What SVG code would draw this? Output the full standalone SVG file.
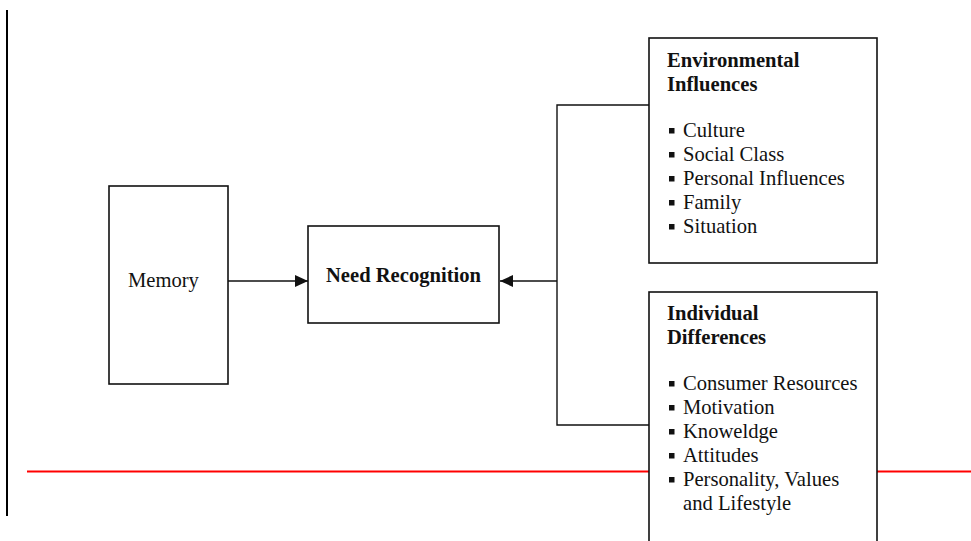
<svg xmlns="http://www.w3.org/2000/svg" width="971" height="541" viewBox="0 0 971 541">
  <style>
    .box { fill: #ffffff; stroke: #111111; stroke-width: 1.6; }
    .wire { fill: none; stroke: #111111; stroke-width: 1.4; }
    .txt { font-family: "Liberation Serif", "Times New Roman", serif; font-size: 20.6px; fill: #111111; }
    .bold { font-weight: bold; }
    .bullet { fill: #111111; }
  </style>
  <defs>
    <marker id="arrow" viewBox="0 0 13 12" refX="13" refY="6" markerWidth="13" markerHeight="12" markerUnits="userSpaceOnUse" orient="auto">
      <path d="M0,0 L13,6 L0,12 Z" fill="#111111"/>
    </marker>
    <rect id="sq" width="5.5" height="5.5" class="bullet"/>
  </defs>

  <!-- page margin rule and red guide line -->
  <line x1="7" y1="10" x2="7" y2="516" stroke="#000000" stroke-width="2"/>
  <line x1="27" y1="471.5" x2="971" y2="471.5" stroke="#ff0000" stroke-width="2"/>

  <!-- connectors -->
  <g id="connectors">
    <line class="wire" x1="228" y1="281" x2="308" y2="281" marker-end="url(#arrow)"/>
    <polyline class="wire" points="649,105 557,105 557,425 649,425"/>
    <line class="wire" x1="557" y1="281" x2="500" y2="281" marker-end="url(#arrow)"/>
  </g>

  <g id="memory">
    <rect class="box" x="109" y="186" width="119" height="198"/>
    <text class="txt" x="128" y="287">Memory</text>
  </g>

  <g id="need-recognition">
    <rect class="box" x="308" y="226" width="191" height="97"/>
    <text class="txt bold" x="403.5" y="282" text-anchor="middle">Need Recognition</text>
  </g>

  <g id="environmental-influences">
    <rect class="box" x="649" y="38" width="228" height="225"/>
    <text class="txt bold" x="667" y="67">Environmental</text>
    <text class="txt bold" x="667" y="91">Influences</text>
    <use href="#sq" x="669" y="128"/>
    <text class="txt" x="683" y="137">Culture</text>
    <use href="#sq" x="669" y="152"/>
    <text class="txt" x="683" y="161">Social Class</text>
    <use href="#sq" x="669" y="176"/>
    <text class="txt" x="683" y="185">Personal Influences</text>
    <use href="#sq" x="669" y="200"/>
    <text class="txt" x="683" y="209">Family</text>
    <use href="#sq" x="669" y="224"/>
    <text class="txt" x="683" y="233">Situation</text>
  </g>

  <g id="individual-differences">
    <rect class="box" x="649" y="292" width="228" height="260"/>
    <text class="txt bold" x="667" y="320">Individual</text>
    <text class="txt bold" x="667" y="344">Differences</text>
    <use href="#sq" x="669" y="381"/>
    <text class="txt" x="683" y="390">Consumer Resources</text>
    <use href="#sq" x="669" y="405"/>
    <text class="txt" x="683" y="414">Motivation</text>
    <use href="#sq" x="669" y="429"/>
    <text class="txt" x="683" y="438">Knoweldge</text>
    <use href="#sq" x="669" y="453"/>
    <text class="txt" x="683" y="462">Attitudes</text>
    <use href="#sq" x="669" y="477"/>
    <text class="txt" x="683" y="486">Personality, Values</text>
    <text class="txt" x="683" y="510">and Lifestyle</text>
  </g>
</svg>
